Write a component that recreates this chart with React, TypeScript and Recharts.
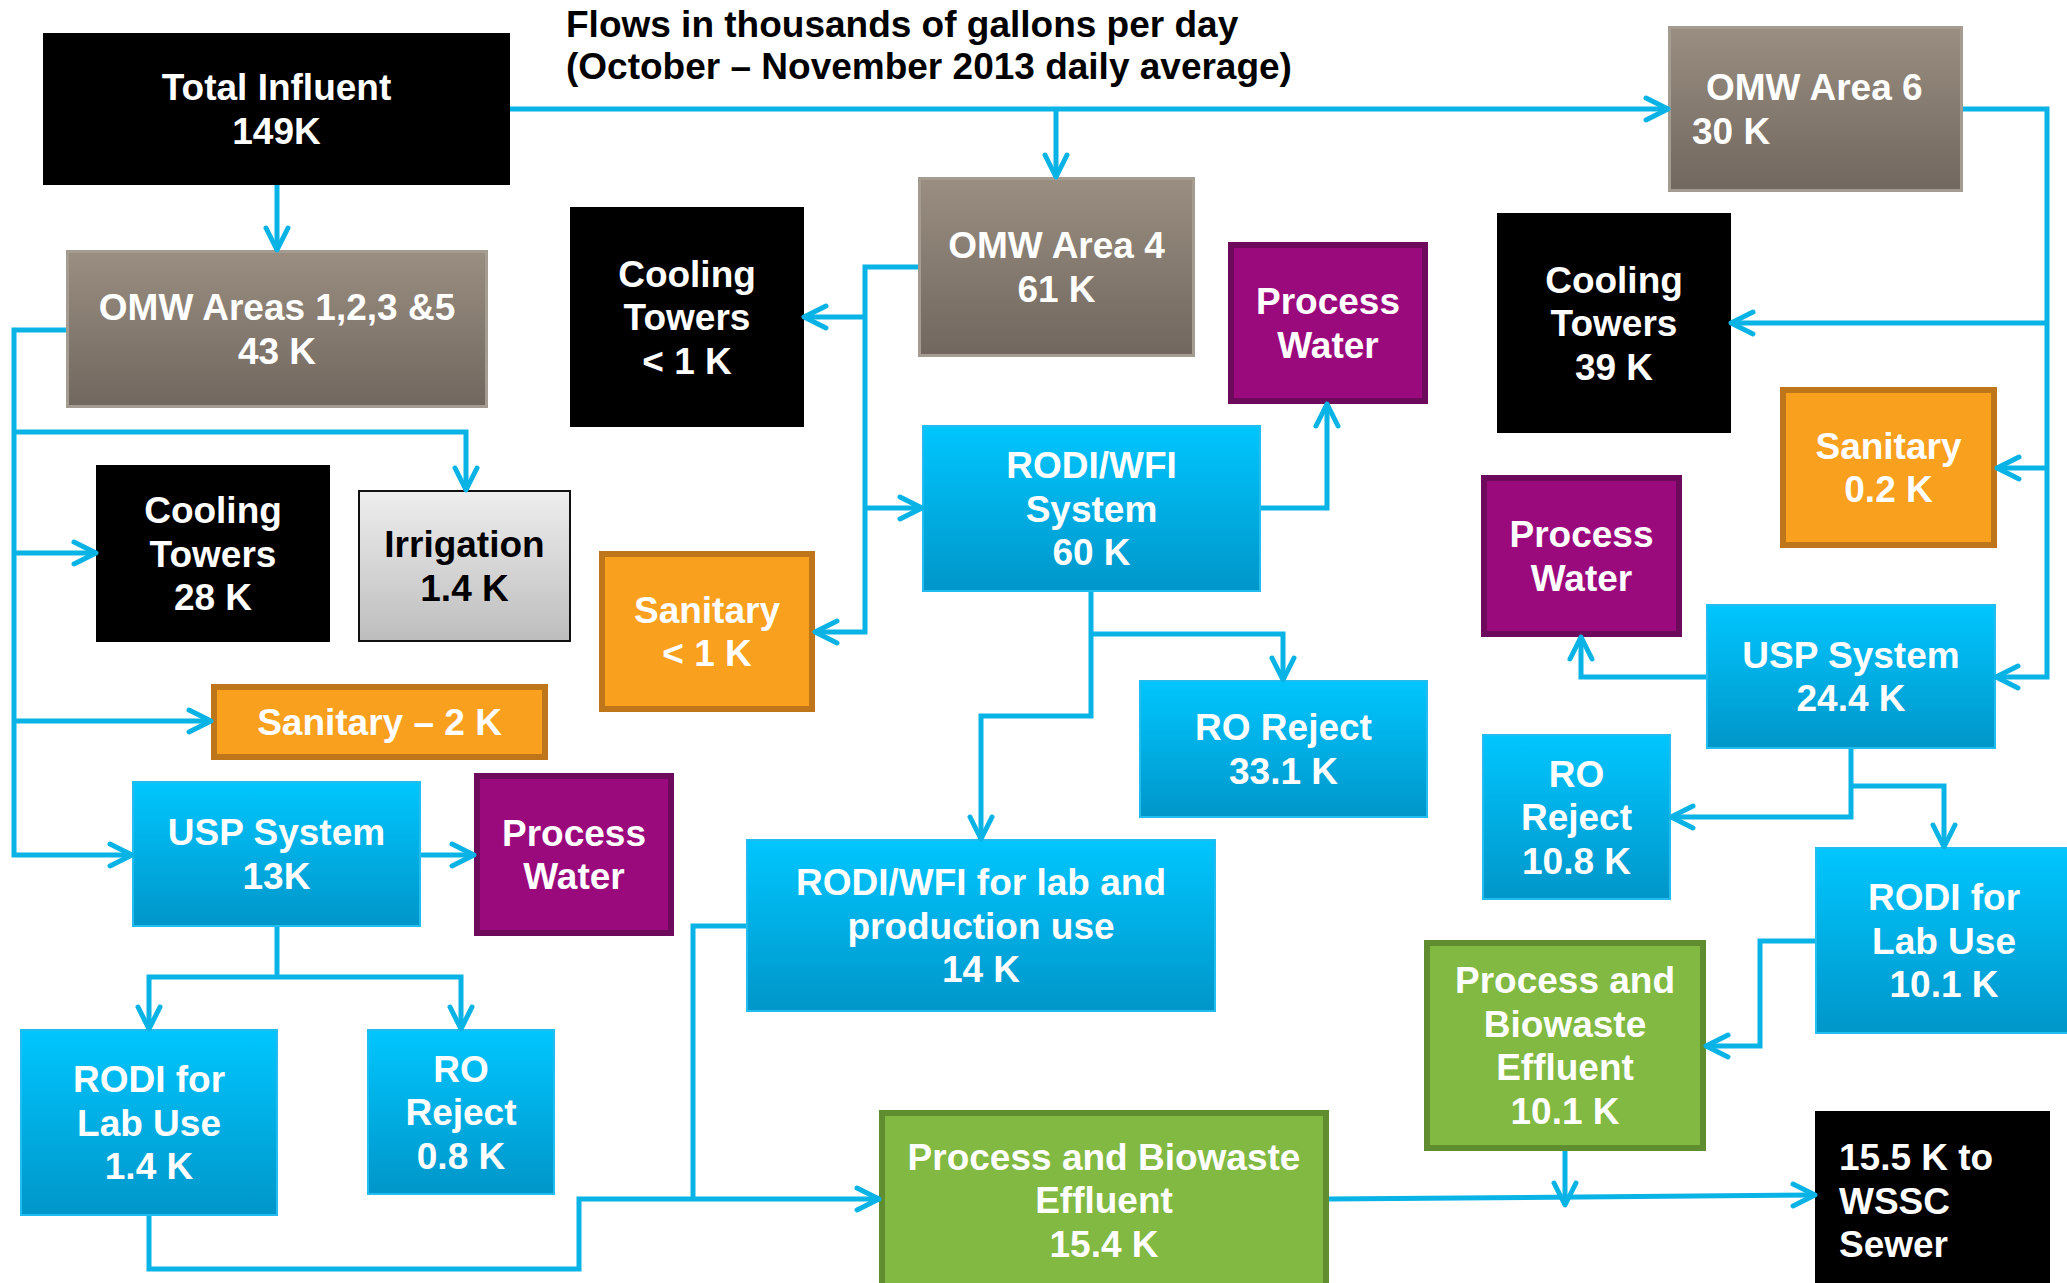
import React from 'react';
import { ComposedChart, XAxis, YAxis, ReferenceArea, Scatter } from 'recharts';

const W = 2067;
const H = 1283;
const PIPE = '#09B3E5';
const FONT = '"Liberation Sans", Arial, Helvetica, sans-serif';
const LINE_H = 43.5;

const titleLines = [
  'Flows in thousands of gallons per day',
  '(October \u2013 November 2013 daily average)',
];

// box captions, one entry per line
const nodeLabels: string[][] = [
  ['Total Influent', '149K'],
  ['OMW Areas 1,2,3 &5', '43 K'],
  ['Cooling', 'Towers', '28 K'],
  ['Irrigation', '1.4 K'],
  ['Cooling', 'Towers', '< 1 K'],
  ['OMW Area 4', '61 K'],
  ['Process', 'Water'],
  ['RODI/WFI', 'System', '60 K'],
  ['OMW Area 6', '30 K'],
  ['Cooling', 'Towers', '39 K'],
  ['Sanitary', '0.2 K'],
  ['Process', 'Water'],
  ['USP System', '24.4 K'],
  ['Sanitary', '< 1 K'],
  ['Sanitary \u2013 2 K'],
  ['USP System', '13K'],
  ['Process', 'Water'],
  ['RODI for', 'Lab Use', '1.4 K'],
  ['RO', 'Reject', '0.8 K'],
  ['RO Reject', '33.1 K'],
  ['RODI/WFI for lab and', 'production use', '14 K'],
  ['Process and Biowaste', 'Effluent', '15.4 K'],
  ['RO', 'Reject', '10.8 K'],
  ['RODI for', 'Lab Use', '10.1 K'],
  ['Process and', 'Biowaste', 'Effluent', '10.1 K'],
  ['15.5 K to', 'WSSC', 'Sewer'],
];

const nodeKinds = [
  'black', 'omw', 'black', 'irrigation', 'black', 'omw', 'purple', 'rodi',
  'omw', 'black', 'orange', 'purple', 'rodi', 'orange', 'orange', 'rodi',
  'purple', 'rodi', 'rodi', 'rodi', 'rodi', 'green', 'rodi', 'rodi', 'green', 'black',
];

// diagram layout: [x1, y1, x2, y2] in diagram units
const nodeBoxes: [number, number, number, number][] = [
  [43, 33, 510, 185],
  [66, 250, 488, 408],
  [96, 465, 330, 642],
  [358, 490, 571, 642],
  [570, 207, 804, 427],
  [918, 177, 1195, 357],
  [1228, 242, 1428, 404],
  [922, 425, 1261, 592],
  [1668, 26, 1963, 192],
  [1497, 213, 1731, 433],
  [1780, 387, 1997, 548],
  [1481, 475, 1682, 637],
  [1706, 604, 1996, 749],
  [599, 551, 815, 712],
  [211, 684, 548, 760],
  [132, 781, 421, 927],
  [474, 773, 674, 936],
  [20, 1029, 278, 1216],
  [367, 1029, 555, 1195],
  [1139, 680, 1428, 818],
  [746, 839, 1216, 1012],
  [879, 1110, 1329, 1290],
  [1482, 734, 1671, 900],
  [1815, 847, 2073, 1034],
  [1424, 940, 1706, 1151],
  [1815, 1111, 2050, 1290],
];

// boxes whose text is left aligned: per-line indent from the box's left edge
const leftIndent: Record<number, number[]> = {
  8: [38, 24],
  25: [24, 24, 24],
};

// connector polylines
const pipes: [number, number][][] = [
  [[510, 109], [1668, 109]],
  [[1056, 109], [1056, 177]],
  [[277, 185], [277, 250]],
  [[66, 330], [14, 330], [14, 855], [132, 855]],
  [[14, 432], [466, 432], [466, 490]],
  [[14, 553], [96, 553]],
  [[14, 721], [211, 721]],
  [[421, 855], [474, 855]],
  [[277, 927], [277, 977]],
  [[149, 1029], [149, 977], [461, 977], [461, 1029]],
  [[149, 1216], [149, 1269], [579, 1269], [579, 1199], [879, 1199]],
  [[746, 926], [693, 926], [693, 1199]],
  [[918, 267], [865, 267], [865, 632], [815, 632]],
  [[865, 317], [804, 317]],
  [[865, 508], [922, 508]],
  [[1261, 508], [1327, 508], [1327, 404]],
  [[1091, 592], [1091, 716], [981, 716], [981, 839]],
  [[1091, 634], [1283, 634], [1283, 680]],
  [[1963, 109], [2047, 109], [2047, 677], [1996, 677]],
  [[2047, 323], [1731, 323]],
  [[2047, 468], [1997, 468]],
  [[1706, 677], [1581, 677], [1581, 637]],
  [[1851, 749], [1851, 817], [1671, 817]],
  [[1851, 786], [1944, 786], [1944, 847]],
  [[1815, 941], [1760, 941], [1760, 1046], [1706, 1046]],
  [[1329, 1199], [1815, 1195]],
  [[1565, 1151], [1565, 1205]],
];

const arrowTips = [
  { x: 1668, y: 109, dir: 'right' },
  { x: 1056, y: 177, dir: 'down' },
  { x: 277, y: 250, dir: 'down' },
  { x: 132, y: 855, dir: 'right' },
  { x: 466, y: 490, dir: 'down' },
  { x: 96, y: 553, dir: 'right' },
  { x: 211, y: 721, dir: 'right' },
  { x: 474, y: 855, dir: 'right' },
  { x: 149, y: 1029, dir: 'down' },
  { x: 461, y: 1029, dir: 'down' },
  { x: 879, y: 1199, dir: 'right' },
  { x: 815, y: 632, dir: 'left' },
  { x: 804, y: 317, dir: 'left' },
  { x: 922, y: 508, dir: 'right' },
  { x: 1327, y: 404, dir: 'up' },
  { x: 981, y: 839, dir: 'down' },
  { x: 1283, y: 680, dir: 'down' },
  { x: 1996, y: 677, dir: 'left' },
  { x: 1731, y: 323, dir: 'left' },
  { x: 1997, y: 468, dir: 'left' },
  { x: 1581, y: 637, dir: 'up' },
  { x: 1671, y: 817, dir: 'left' },
  { x: 1944, y: 847, dir: 'down' },
  { x: 1706, y: 1046, dir: 'left' },
  { x: 1815, y: 1195, dir: 'right' },
  { x: 1565, y: 1205, dir: 'down' },
];

const KIND_STYLE: Record<string, { fill: string; stroke: string; sw: number; text: string }> = {
  black: { fill: '#000000', stroke: 'none', sw: 0, text: '#ffffff' },
  omw: { fill: 'url(#gOmw)', stroke: '#A49B91', sw: 3, text: '#ffffff' },
  rodi: { fill: 'url(#gRodi)', stroke: '#22BDF0', sw: 2, text: '#ffffff' },
  purple: { fill: '#9B0A7D', stroke: '#6E0A5B', sw: 6, text: '#ffffff' },
  orange: { fill: '#F9A01F', stroke: '#BF7519', sw: 6, text: '#ffffff' },
  green: { fill: '#81B943', stroke: '#5F8D2F', sw: 6, text: '#ffffff' },
  irrigation: { fill: 'url(#gIrr)', stroke: '#111111', sw: 2, text: '#000000' },
};

const renderBox = (i: number) => (p: any) => {
  const st = KIND_STYLE[nodeKinds[i]];
  const { x, y, width, height } = p;
  const h = st.sw / 2;
  const lines = nodeLabels[i];
  const cx = x + width / 2;
  const cy = y + height / 2;
  const indents = leftIndent[i];
  return (
    <g>
      <rect
        x={x + h}
        y={y + h}
        width={width - st.sw}
        height={height - st.sw}
        fill={st.fill}
        stroke={st.stroke}
        strokeWidth={st.sw}
      />
      {lines.map((t, k) => (
        <text
          key={k}
          x={indents ? x + indents[k] : cx}
          y={cy + (k - (lines.length - 1) / 2) * LINE_H + 13}
          textAnchor={indents ? 'start' : 'middle'}
          fill={st.text}
          fontFamily={FONT}
          fontWeight="bold"
          fontSize={37}
        >
          {t}
        </text>
      ))}
    </g>
  );
};

const Chevron = (p: any) => {
  const { cx, cy, payload } = p;
  const L = 22;
  const S = 11;
  let pts: number[][];
  switch (payload.dir) {
    case 'left':
      pts = [[cx + L, cy - S], [cx, cy], [cx + L, cy + S]];
      break;
    case 'up':
      pts = [[cx - S, cy + L], [cx, cy], [cx + S, cy + L]];
      break;
    case 'down':
      pts = [[cx - S, cy - L], [cx, cy], [cx + S, cy - L]];
      break;
    default:
      pts = [[cx - L, cy - S], [cx, cy], [cx - L, cy + S]];
  }
  return (
    <polyline
      points={pts.map((q) => q.join(',')).join(' ')}
      fill="none"
      stroke={PIPE}
      strokeWidth={5}
      strokeLinecap="round"
      strokeLinejoin="round"
    />
  );
};

export default function App() {
  return (
    <div style={{ position: 'absolute', left: 0, top: 0, width: W, height: H, background: '#ffffff' }}>
      <ComposedChart width={W} height={H} margin={{ top: 0, right: 0, bottom: 0, left: 0 }}>
        <defs>
          <linearGradient id="gOmw" x1="0" y1="0" x2="0" y2="1">
            <stop offset="0%" stopColor="#9A8E81" />
            <stop offset="100%" stopColor="#71675E" />
          </linearGradient>
          <linearGradient id="gRodi" x1="0" y1="0" x2="0" y2="1">
            <stop offset="0%" stopColor="#00C6FE" />
            <stop offset="100%" stopColor="#0096C9" />
          </linearGradient>
          <linearGradient id="gIrr" x1="0" y1="0" x2="0" y2="1">
            <stop offset="0%" stopColor="#EEEEEE" />
            <stop offset="100%" stopColor="#BDBDBD" />
          </linearGradient>
        </defs>
        <XAxis type="number" dataKey="x" domain={[0, W]} allowDataOverflow hide />
        <YAxis type="number" dataKey="y" domain={[0, H]} allowDataOverflow reversed hide />
        {nodeBoxes.map(([x1, y1, x2, y2], i) => (
          <ReferenceArea
            key={`box-${i}`}
            x1={x1}
            x2={x2}
            y1={y1}
            y2={y2}
            ifOverflow="visible"
            shape={renderBox(i)}
          />
        ))}
        {pipes.map((pts, i) => (
          <Scatter
            key={`pipe-${i}`}
            data={pts.map(([x, y]) => ({ x, y }))}
            fill={PIPE}
            line={{ stroke: PIPE, strokeWidth: 5 }}
            shape={() => <g />}
            isAnimationActive={false}
          />
        ))}
        <Scatter data={arrowTips} fill={PIPE} shape={Chevron} isAnimationActive={false} />
        {titleLines.map((t, k) => (
          <text
            key={`title-${k}`}
            x={566}
            y={37 + k * 42}
            fill="#000000"
            fontFamily={FONT}
            fontWeight="bold"
            fontSize={37}
          >
            {t}
          </text>
        ))}
      </ComposedChart>
    </div>
  );
}
